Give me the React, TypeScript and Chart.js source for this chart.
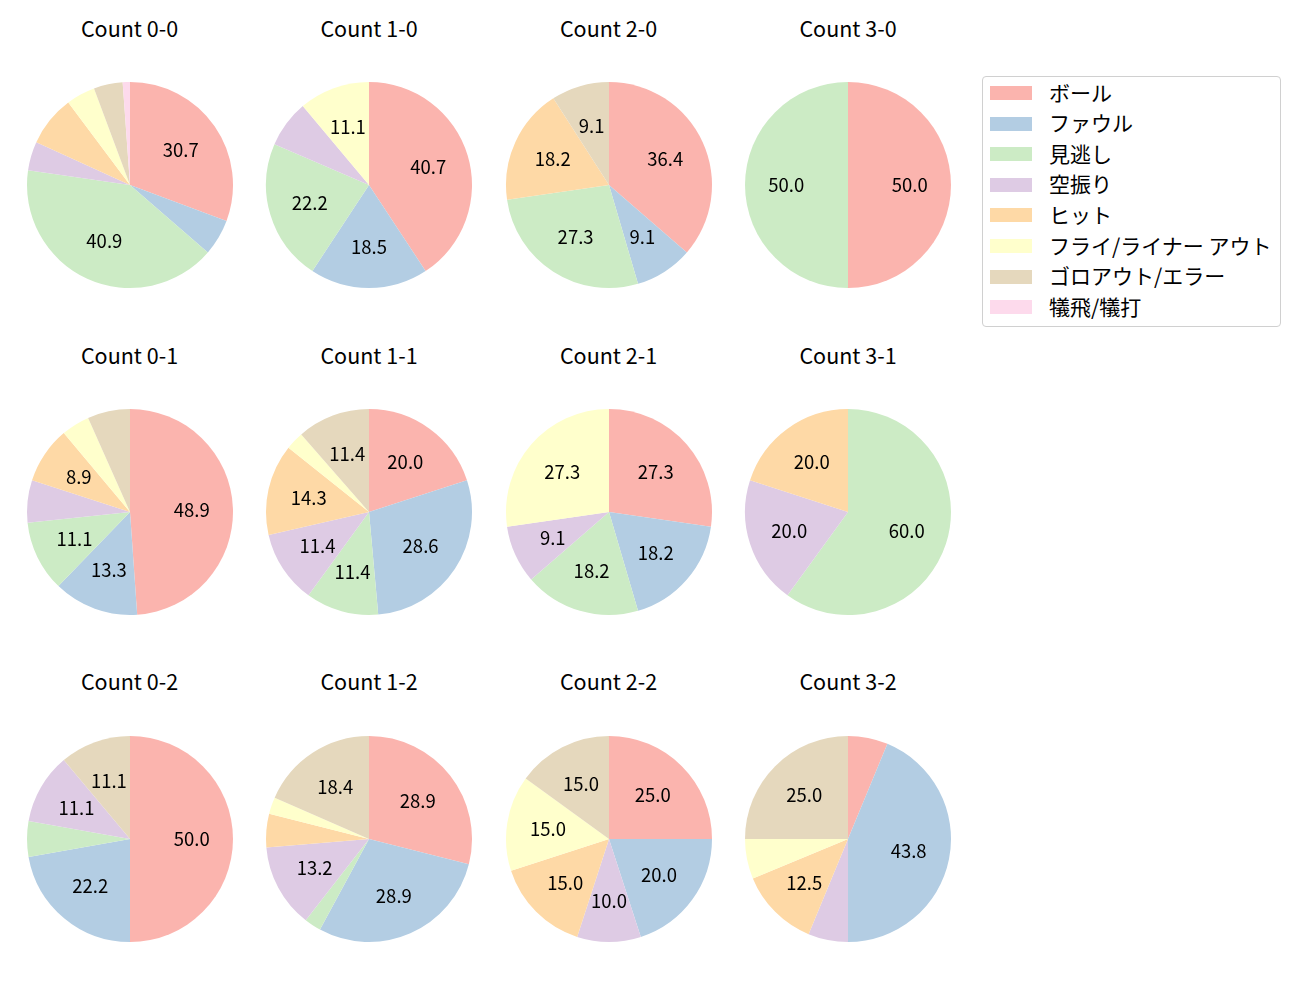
import React, { useEffect, useRef } from "react";
import { Chart, registerables } from "chart.js";

Chart.register(...registerables);

const categories = ["ボール", "ファウル", "見逃し", "空振り", "ヒット", "フライ/ライナー アウト", "ゴロアウト/エラー", "犠飛/犠打"];
const colors = ["#fbb4ae", "#b3cde3", "#ccebc5", "#decbe4", "#fed9a6", "#ffffcc", "#e5d8bd", "#fddaec"];

const countTitles = ["Count 0-0", "Count 1-0", "Count 2-0", "Count 3-0", "Count 0-1", "Count 1-1", "Count 2-1", "Count 3-1", "Count 0-2", "Count 1-2", "Count 2-2", "Count 3-2"];

const count00 = [27, 5, 36, 4, 7, 4, 4, 1];
const count10 = [11, 5, 6, 2, 0, 3, 0, 0];
const count20 = [4, 1, 3, 0, 2, 0, 1, 0];
const count30 = [1, 0, 1, 0, 0, 0, 0, 0];
const count01 = [22, 6, 5, 3, 4, 2, 3, 0];
const count11 = [7, 10, 4, 4, 5, 1, 4, 0];
const count21 = [3, 2, 2, 1, 0, 3, 0, 0];
const count31 = [0, 0, 3, 1, 1, 0, 0, 0];
const count02 = [9, 4, 1, 2, 0, 0, 2, 0];
const count12 = [11, 11, 1, 5, 2, 1, 7, 0];
const count22 = [5, 4, 0, 2, 3, 3, 3, 0];
const count32 = [1, 7, 0, 1, 2, 1, 4, 0];

const countValues = [count00, count10, count20, count30, count01, count11, count21, count31, count02, count12, count22, count32];

const FONT = "'Noto Sans CJK JP', 'Noto Sans', sans-serif";
const colCenters = [129.5, 369, 608.5, 848];
const rowCenters = [184.5, 512, 839];
const titleYs = [27.5, 354.5, 681];
const R = 103;
const PAD = 2;

const pctLabelPlugin = {
  id: "pctLabels",
  afterDatasetsDraw(chart: any) {
    const ctx = chart.ctx;
    const meta = chart.getDatasetMeta(0);
    const data = chart.data.datasets[0].data as number[];
    const total = data.reduce((a, b) => a + b, 0);
    ctx.save();
    ctx.fillStyle = "#000";
    ctx.font = `18.5px ${FONT}`;
    ctx.textAlign = "center";
    ctx.textBaseline = "middle";
    meta.data.forEach((arc: any, i: number) => {
      const pct = (data[i] / total) * 100;
      if (pct < 8.5) return;
      const p = arc.getProps(["x", "y", "startAngle", "endAngle", "outerRadius"], true);
      const a = (p.startAngle + p.endAngle) / 2;
      const r = p.outerRadius * 0.6;
      ctx.fillText(pct.toFixed(1), p.x + Math.cos(a) * r, p.y + Math.sin(a) * r);
    });
    ctx.restore();
  },
};

function Pie({ values, cx, cy }: { values: number[]; cx: number; cy: number }) {
  const ref = useRef<HTMLCanvasElement>(null);
  useEffect(() => {
    if (!ref.current) return;
    const chart = new Chart(ref.current, {
      type: "pie",
      data: {
        labels: categories,
        datasets: [{ data: values, backgroundColor: colors, borderWidth: 0, hoverOffset: 0 }],
      },
      options: {
        animation: false,
        responsive: false,
        maintainAspectRatio: false,
        layout: { padding: PAD },
        plugins: { legend: { display: false }, tooltip: { enabled: false }, title: { display: false } },
        events: [],
      },
      plugins: [pctLabelPlugin],
    });
    return () => chart.destroy();
  }, [values]);
  const size = 2 * (R + PAD);
  return (
    <canvas
      ref={ref}
      width={size}
      height={size}
      style={{ position: "absolute", left: cx - size / 2, top: cy - size / 2, width: size, height: size }}
    />
  );
}

export default function App() {
  return (
    <div style={{ position: "absolute", left: 0, top: 0, width: 1300, height: 1000, background: "#fff", fontFamily: FONT }}>
      {countValues.map((vals, i) => {
        const col = i % 4;
        const row = Math.floor(i / 4);
        return (
          <React.Fragment key={i}>
            <div
              style={{
                position: "absolute",
                left: colCenters[col] - 120,
                width: 240,
                top: titleYs[row] - 15,
                height: 30,
                lineHeight: "30px",
                textAlign: "center",
                fontSize: 21.5,
                color: "#000",
              }}
            >
              {countTitles[i]}
            </div>
            <Pie values={vals} cx={colCenters[col]} cy={rowCenters[row]} />
          </React.Fragment>
        );
      })}
      <div
        style={{
          position: "absolute",
          left: 982,
          top: 76,
          width: 299,
          height: 251,
          border: "1px solid #d0d0d0",
          borderRadius: 4,
          boxSizing: "border-box",
        }}
      >
        {categories.map((c, i) => (
          <div key={c} style={{ position: "absolute", left: 0, top: 16 + i * 30.6 - 15, height: 30, width: 297 }}>
            <div style={{ position: "absolute", left: 7, top: 8, width: 42, height: 14, background: colors[i] }} />
            <div style={{ position: "absolute", left: 66, top: -1.5, height: 30, lineHeight: "30px", fontSize: 21, color: "#000", whiteSpace: "nowrap" }}>
              {c}
            </div>
          </div>
        ))}
      </div>
    </div>
  );
}
